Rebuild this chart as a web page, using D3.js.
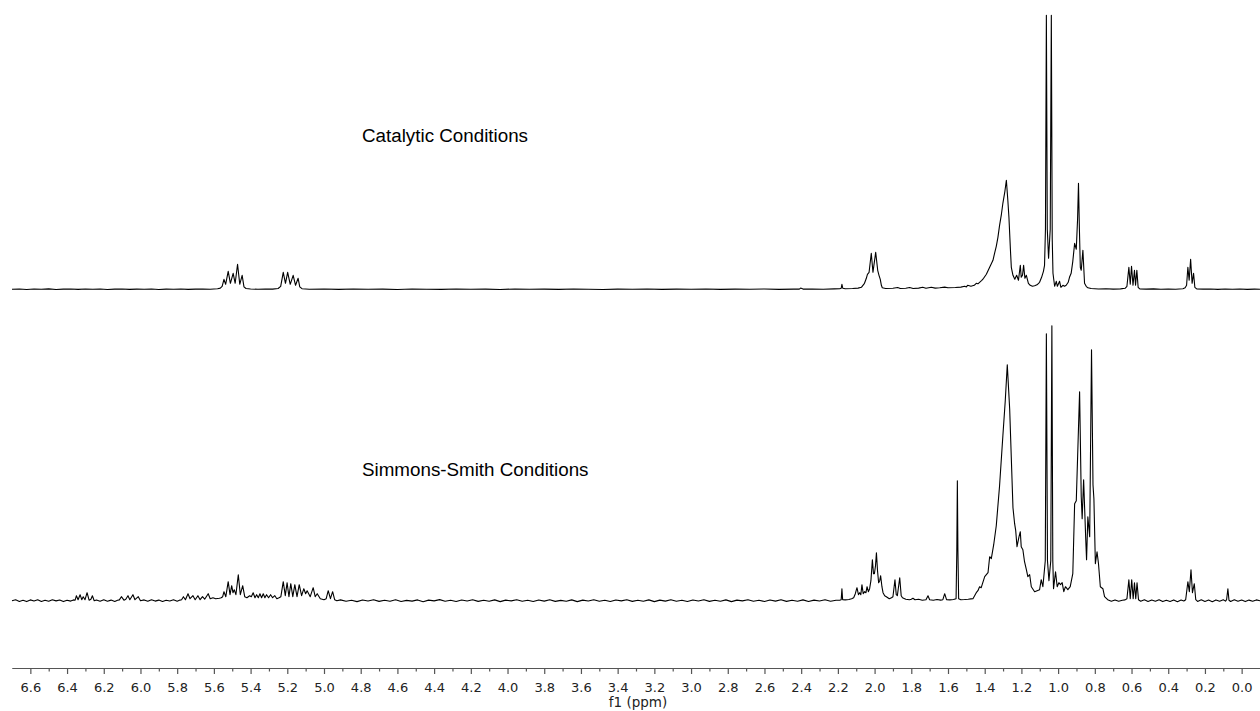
<!DOCTYPE html>
<html><head><meta charset="utf-8">
<script src="https://cdn.jsdelivr.net/npm/d3@7"></script>
<style>body{margin:0;background:#fff}svg{display:block}</style>
</head><body><svg id="c" width="1260" height="711"></svg>
<script>
// ---- data ----
const ppmDomain = [6.7, -0.1];
const majorTicks = [6.6,6.4,6.2,6.0,5.8,5.6,5.4,5.2,5.0,4.8,4.6,4.4,4.2,4.0,3.8,3.6,3.4,3.2,3.0,2.8,2.6,2.4,2.2,2.0,1.8,1.6,1.4,1.2,1.0,0.8,0.6,0.4,0.2,0.0];
const minorTicks = [6.5,6.3,6.1,5.9,5.7,5.5,5.3,5.1,4.9,4.7,4.5,4.3,4.1,3.9,3.7,3.5,3.3,3.1,2.9,2.7,2.5,2.3,2.1,1.9,1.7,1.5,1.3,1.1,0.9,0.7,0.5,0.3,0.1];
const axisTitle = "f1 (ppm)";
const traceLabels = ["Catalytic Conditions", "Simmons-Smith Conditions"];

// [ppm, intensity]
const catalyticSpectrum = [
[6.70,0],[6.66,0.3],[6.62,-0.2],[6.58,0.3],[6.54,0],[6.50,0.4],[6.46,-0.2],[6.42,0.2],[6.38,0.3],[6.34,-0.1],[6.30,0.3],[6.26,0],[6.22,0.3],[6.18,-0.2],[6.14,0.2],[6.10,0.3],[6.06,-0.1],[6.02,0.2],[5.98,0],[5.94,0.3],[5.90,-0.2],[5.86,0.2],[5.82,0.1],[5.78,0.3],[5.74,-0.1],[5.70,0.2],[5.66,0.3],[5.62,0.1],[5.58,0.6],[5.565,1.2],
[5.555,3],[5.545,10],[5.536,5],[5.522,18],[5.510,6],[5.495,16],[5.484,6],[5.471,25],[5.459,5],[5.446,14],[5.436,2.5],[5.425,0.8],
[5.40,0.3],[5.36,0],[5.32,0.3],[5.28,0.2],[5.25,0.8],
[5.236,3],[5.222,17],[5.210,6],[5.198,17],[5.184,5],[5.168,14],[5.155,4],[5.141,11],[5.132,2.5],[5.12,0.6],
[5.08,0.1],[5.00,0.3],[4.92,-0.1],[4.84,0.3],[4.76,0],[4.68,0.2],[4.60,-0.2],[4.52,0.3],[4.44,0.1],[4.36,-0.1],[4.28,0.3],[4.20,0],[4.12,0.2],[4.04,-0.2],[3.96,0.3],[3.88,0],[3.80,0.2],[3.72,-0.1],[3.64,0.3],[3.56,0.1],[3.48,-0.2],[3.40,0.2],[3.32,0],[3.24,0.3],[3.16,-0.1],[3.08,0.2],[3.00,0],[2.92,0.3],[2.84,-0.1],[2.76,0.2],[2.68,0],[2.60,0.3],[2.52,-0.1],[2.44,0.2],
[2.41,0.2],[2.403,1.2],[2.39,0.2],[2.34,0.3],[2.28,0.1],[2.22,0.4],[2.19,0.6],[2.182,1],[2.178,5],[2.173,1],[2.16,0.6],[2.12,0.8],[2.09,1.2],[2.072,2],[2.055,6],[2.045,11],[2.039,15],[2.030,17],[2.018,36],[2.009,17],[1.994,37],[1.983,19],[1.976,14],[1.969,10],[1.963,4],[1.958,1.5],[1.94,0.8],[1.90,1],[1.874,1.8],[1.86,0.8],[1.83,1],[1.809,1.8],[1.79,0.8],[1.76,1.2],[1.738,2],[1.72,1],[1.691,2],[1.67,1.2],[1.645,1.5],[1.618,2.2],[1.60,1.6],[1.56,1.8],[1.53,2.2],[1.509,3],[1.50,2.4],[1.493,4],[1.475,3],[1.457,4],[1.446,6],[1.437,5.5],[1.428,7],[1.416,9],[1.406,11],[1.391,15],[1.373,22],[1.355,29],[1.345,37],[1.337,43],[1.328,52],[1.319,64],[1.309,75],[1.301,86],[1.290,98],[1.282,109],[1.274,89],[1.268,72],[1.260,40],[1.255,22],[1.246,14],[1.236,10],[1.226,14],[1.216,9],[1.206,24],[1.201,12],[1.194,14],[1.188,24],[1.181,11],[1.173,14],[1.162,6],[1.152,4],[1.14,3],[1.128,3.5],[1.115,4.5],[1.101,7],[1.09,12],[1.08,18],[1.074,24],[1.069,60],[1.064,274],[1.059,60],[1.052,31],[1.043,60],[1.037,274],[1.032,50],[1.028,16],[1.019,3],[1.010,8],[1.004,3],[0.992,8],[0.985,2],[0.974,4],[0.965,3],[0.956,4],[0.945,7],[0.938,12],[0.929,16],[0.920,28],[0.910,46],[0.901,40],[0.894,70],[0.889,106],[0.884,60],[0.879,22],[0.874,19],[0.865,39],[0.856,6],[0.847,3],[0.838,1.5],[0.82,0.8],[0.78,0.3],[0.74,0.5],[0.70,0.2],[0.66,0.4],[0.635,1],
[0.625,3],[0.6145,22],[0.607,5],[0.600,23],[0.592,4],[0.584,19],[0.578,4],[0.571,19],[0.564,2],[0.555,0.4],
[0.52,0.2],[0.48,0.4],[0.44,0],[0.40,0.3],[0.36,0.1],[0.32,0.6],[0.308,1.5],
[0.300,4],[0.293,22],[0.286,9],[0.278,30],[0.270,6],[0.262,16],[0.255,2],[0.245,0.4],
[0.21,0.2],[0.17,0.3],[0.13,-0.1],[0.09,0.3],[0.05,0.1],[0.01,0.3],[-0.03,-0.1],[-0.07,0.2],[-0.10,0]
];

const simmonsSmithSpectrum = [
[6.70,0],[6.68,0.9],[6.66,-0.7],[6.64,0.5],[6.62,-0.9],[6.60,0.8],[6.58,-0.3],[6.56,1.0],[6.54,-0.8],[6.52,0.4],[6.50,-0.6],[6.48,0.9],[6.46,-0.2],[6.44,0.7],[6.42,-0.9],[6.40,0.5],[6.38,-0.4],[6.365,0.8],
[6.356,0.5],[6.349,5],[6.340,1],[6.329,6],[6.320,1],[6.312,4],[6.302,1],[6.291,8],[6.280,0.5],[6.270,1.5],[6.262,5],[6.252,0],
[6.24,0.7],[6.22,-0.6],[6.20,0.9],[6.18,-0.5],[6.16,0.6],[6.14,-0.8],[6.125,0.4],
[6.115,0.8],[6.104,4],[6.090,0.5],[6.080,1.5],[6.068,5],[6.058,1],[6.041,6],[6.030,1],[6.012,4],[6.000,0],
[5.98,0.8],[5.96,-0.6],[5.94,0.9],[5.92,-0.4],[5.90,0.6],[5.88,-0.8],[5.86,0.5],[5.84,-0.3],[5.82,0.9],[5.80,-0.5],[5.785,0.6],
[5.776,1],[5.766,4],[5.755,1],[5.741,7],[5.730,2],[5.714,5],[5.702,1],[5.687,5],[5.675,1],[5.662,4],[5.650,1.5],[5.631,7],[5.620,2],[5.605,3],[5.59,2],[5.57,2.5],[5.56,3],
[5.552,4],[5.545,9],[5.535,4],[5.522,19],[5.512,6],[5.503,15],[5.496,8],[5.489,11],[5.480,6],[5.467,26],[5.456,6],[5.443,15],[5.432,4],[5.42,3],[5.405,5],
[5.396,4],[5.386,8],[5.376,3],[5.367,6],[5.358,3],[5.349,7],[5.340,3],[5.331,7],[5.322,3],[5.313,6],[5.302,3],[5.291,6],[5.280,3],[5.268,5],[5.257,2],[5.245,3],
[5.235,4],[5.222,19],[5.211,5],[5.201,18],[5.191,4],[5.181,17],[5.170,4],[5.159,16],[5.147,4],[5.135,16],[5.122,5],[5.110,12],[5.100,7],[5.092,10],[5.075,4],[5.059,13],[5.048,4],[5.037,7],[5.02,2],[5.00,1],[4.988,2],[4.977,10],[4.965,2],[4.953,9],[4.942,1],[4.93,0],
[4.91,0.8],[4.88,-0.6],[4.85,0.4],[4.82,-0.9],[4.79,0.7],[4.76,-0.3],[4.73,1.0],[4.70,-0.7],[4.67,0.5],[4.64,-0.5],[4.61,0.9],[4.58,-0.8],[4.55,0.3],[4.52,-0.4],[4.49,0.8],[4.46,-1.0],[4.43,0.6],[4.40,-0.2],[4.37,1.1],[4.34,-0.6],[4.31,0.4],[4.28,-0.8],[4.25,0.7],[4.22,-0.3],[4.19,0.9],[4.16,-0.7],[4.13,0.5],[4.10,-0.5],[4.07,0.8],[4.04,-0.9],[4.01,0.6],[3.98,-0.2],[3.95,1.0],[3.92,-0.6],[3.89,0.4],[3.86,-0.8],[3.83,0.7],[3.80,-0.4],[3.77,0.9],[3.74,-0.7],[3.71,0.3],[3.68,-0.5],[3.65,0.8],[3.62,-0.9],[3.59,0.6],[3.56,-0.3],[3.53,1.0],[3.50,-0.6],[3.47,0.5],[3.44,-0.8],[3.41,0.7],[3.38,-0.2],[3.35,0.9],[3.32,-0.7],[3.29,0.4],[3.26,-0.5],[3.23,0.8],[3.20,-0.9],[3.17,0.6],[3.14,-0.4],[3.11,1.0],[3.08,-0.6],[3.05,0.5],[3.02,-0.8],[2.99,0.7],[2.96,-0.3],[2.93,0.9],[2.90,-0.7],[2.87,0.4],[2.84,-0.5],[2.81,0.8],[2.78,-0.9],[2.75,0.6],[2.72,-0.2],[2.69,1.0],[2.66,-0.6],[2.63,0.5],[2.60,-0.8],[2.57,0.7],[2.54,-0.4],[2.51,0.9],[2.48,-0.7],[2.45,0.4],[2.42,-0.5],[2.39,0.8],[2.36,-0.8],[2.33,0.6],[2.30,-0.3],[2.27,0.9],[2.24,-0.6],[2.21,0.5],
[2.19,0.5],[2.182,1],[2.178,12],[2.174,1],[2.16,0.8],[2.14,1.2],[2.125,2],
[2.114,3],[2.105,7],[2.096,13],[2.088,6],[2.081,8],[2.075,6],[2.069,16],[2.062,7],[2.054,9],[2.047,8],[2.041,14],[2.034,9],[2.027,12],[2.020,20],[2.012,41],[2.006,27],[2.001,27],[1.995,35],[1.990,48],[1.984,30],[1.978,18],[1.972,20],[1.967,25],[1.960,14],[1.954,8],[1.945,5],[1.936,4],[1.92,2],[1.908,3],
[1.900,4],[1.889,21],[1.882,6],[1.876,5],[1.863,23],[1.855,5],[1.848,3],[1.83,1.5],[1.81,1],[1.80,1.5],[1.791,2.5],[1.78,1],[1.76,1.5],[1.74,0.5],[1.72,1],[1.709,5],[1.700,1],[1.68,0.5],[1.66,1.2],[1.64,0.6],[1.628,1],[1.618,7],[1.608,1],[1.59,0.8],[1.57,1.2],
[1.556,2],[1.552,50],[1.549,120],[1.546,50],[1.542,2],[1.53,1],[1.51,1.2],[1.49,1.5],[1.475,1.8],
[1.464,2],[1.446,8],[1.437,10],[1.428,14],[1.419,13],[1.400,24],[1.382,28],[1.373,44],[1.364,42],[1.351,56],[1.337,75],[1.319,115],[1.301,165],[1.288,200],[1.277,236],[1.264,192],[1.246,93],[1.237,77],[1.231,70],[1.224,54],[1.213,64],[1.206,69],[1.201,54],[1.192,51],[1.183,39],[1.173,31],[1.165,24],[1.155,26],[1.146,14],[1.128,9],[1.101,11],[1.092,21],[1.083,14],[1.070,40],[1.064,267],[1.058,40],[1.050,20],[1.040,40],[1.034,275],[1.029,40],[1.025,12],[1.014,29],[1.005,14],[0.996,18],[0.987,16],[0.978,18],[0.969,9],[0.960,14],[0.947,11],[0.934,14],[0.920,27],[0.910,97],[0.901,100],[0.883,209],[0.874,104],[0.869,82],[0.861,121],[0.850,64],[0.845,41],[0.838,84],[0.828,64],[0.818,251],[0.810,116],[0.805,102],[0.797,37],[0.788,49],[0.780,37],[0.770,14],[0.756,12],[0.747,4],
[0.73,1],[0.71,-0.5],[0.69,0.8],[0.67,-0.6],[0.65,0.5],[0.635,0.8],
[0.625,2],[0.6145,21],[0.607,2],[0.599,21],[0.591,2],[0.584,18],[0.577,2],[0.570,18],[0.562,1],
[0.55,-0.5],[0.53,0.9],[0.51,-0.8],[0.49,0.6],[0.47,-0.6],[0.45,1.0],[0.43,-0.9],[0.41,0.5],[0.39,-0.7],[0.37,0.8],[0.35,-1.0],[0.33,0.6],[0.315,-0.3],
[0.305,1],[0.293,19],[0.285,9],[0.276,31],[0.268,8],[0.258,17],[0.250,1],
[0.24,-0.7],[0.22,0.9],[0.20,-0.8],[0.18,0.6],[0.16,-1.0],[0.14,0.8],[0.12,-0.5],[0.10,0.9],[0.088,-0.4],
[0.082,1],[0.075,12],[0.069,0.5],
[0.06,-0.8],[0.04,0.9],[0.02,-0.6],[0.00,0.7],[-0.02,-0.9],[-0.04,0.6],[-0.06,-0.5],[-0.08,0.8],[-0.10,0]
];

// ---- drawing ----
const W = 1260, H = 711;
const svg = d3.select("#c");
svg.append("rect").attr("width", W).attr("height", H).attr("fill", "#fff");

const x = d3.scaleLinear().domain(ppmDomain).range([12, 1260]);
const yTop = d3.scaleLinear().domain([0, 274]).range([289.3, 15.3]);
const yBot = d3.scaleLinear().domain([0, 275]).range([600.7, 325.7]);

const lineTop = d3.line().x(d => x(d[0])).y(d => yTop(d[1]));
const lineBot = d3.line().x(d => x(d[0])).y(d => yBot(d[1]));

svg.append("path").datum(catalyticSpectrum.slice().sort((a,b)=>b[0]-a[0]))
  .attr("d", lineTop).attr("fill", "none").attr("stroke", "#000").attr("stroke-width", 1.1).attr("stroke-linejoin","round");
svg.append("path").datum(simmonsSmithSpectrum.slice().sort((a,b)=>b[0]-a[0]))
  .attr("d", lineBot).attr("fill", "none").attr("stroke", "#000").attr("stroke-width", 1.1).attr("stroke-linejoin","round");

// labels
svg.append("text").attr("x", 362).attr("y", 142).text(traceLabels[0])
  .attr("font-family", "'Liberation Sans', Arial, sans-serif").attr("font-size", 18.8).attr("fill", "#000");
svg.append("text").attr("x", 362).attr("y", 476).text(traceLabels[1])
  .attr("font-family", "'Liberation Sans', Arial, sans-serif").attr("font-size", 18.8).attr("fill", "#000");

// axis
const axisY = 668;
const fmt = d3.format(".1f");
const gMinor = svg.append("g").attr("transform", `translate(0,${axisY})`)
  .call(d3.axisBottom(x).tickValues(minorTicks).tickSize(3.5).tickSizeOuter(0).tickFormat(""));
const gMajor = svg.append("g").attr("transform", `translate(0,${axisY})`)
  .call(d3.axisBottom(x).tickValues(majorTicks).tickSize(6).tickSizeOuter(0).tickPadding(9).tickFormat(fmt));
[gMinor, gMajor].forEach(g => {
  g.selectAll("path.domain").attr("stroke", "#555").attr("stroke-width", 1.2);
  g.selectAll(".tick line").attr("stroke", "#555").attr("stroke-width", 1.2);
});
gMajor.selectAll(".tick text").attr("font-family", "'DejaVu Sans', Verdana, sans-serif").attr("font-size", 13).attr("fill", "#222");
svg.append("text").attr("x", (x.range()[0] + x.range()[1]) / 2 + 2).attr("y", 707).attr("text-anchor", "middle")
  .attr("font-family", "'DejaVu Sans', Verdana, sans-serif").attr("font-size", 13.5).attr("fill", "#222").text(axisTitle);
</script></body></html>
